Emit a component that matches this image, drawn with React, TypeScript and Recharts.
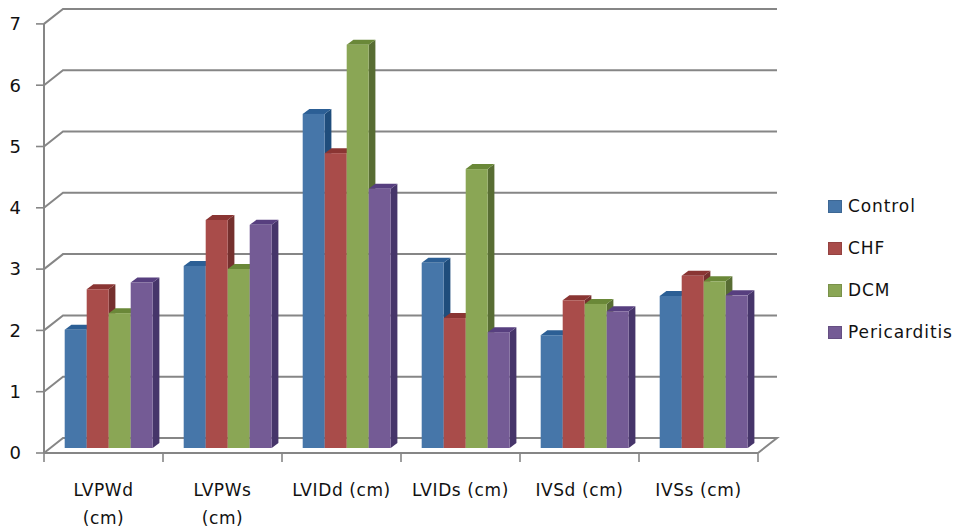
import React from 'react';
import { BarChart, Bar, XAxis, YAxis, CartesianGrid, Legend } from 'recharts';

const categories = ['LVPWd (cm)', 'LVPWs (cm)', 'LVIDd (cm)', 'LVIDs (cm)', 'IVSd (cm)', 'IVSs (cm)'];
const wrappedCategories = ['LVPWd (cm)', 'LVPWs (cm)'];
const control = [1.93, 2.97, 5.45, 3.02, 1.84, 2.48];
const chf = [2.59, 3.72, 4.81, 2.12, 2.41, 2.81];
const dcm = [2.2, 2.92, 6.58, 4.55, 2.35, 2.72];
const pericarditis = [2.7, 3.64, 4.23, 1.89, 2.23, 2.49];
const yTicks = [0, 1, 2, 3, 4, 5, 6, 7];

const data = categories.map((name, i) => ({
  name,
  Control: control[i],
  CHF: chf[i],
  DCM: dcm[i],
  Pericarditis: pericarditis[i],
}));

const FONT = '"DejaVu Sans", sans-serif';
const AXIS = '#868686';
const TEXT = '#111111';
const WALL_DX = 19;
const WALL_DY = 15;
const BAR_SHIFT_X = 4.6;
const BAR_SHIFT_Y = 5;
const BAR_DX = 6.7;
const BAR_DY = 5;
const CATEGORY_W = 119;

const palette = {
  Control: { front: '#4676a9', side: '#1f4d7c', top: '#2c5f95' },
  CHF: { front: '#a94c4a', side: '#75302e', top: '#8a3533' },
  DCM: { front: '#8aa655', side: '#586d33', top: '#6a8838' },
  Pericarditis: { front: '#745b95', side: '#46356a', top: '#573f7f' },
};

const make3DBar = (c: { front: string; side: string; top: string }) => (p: any) => {
  const x = p.x + BAR_SHIFT_X;
  const y = p.y - BAR_SHIFT_Y;
  const w = p.width;
  const h = p.height;
  return (
    <g>
      <polygon points={`${x + w},${y} ${x + w + BAR_DX},${y - BAR_DY} ${x + w + BAR_DX},${y + h - BAR_DY} ${x + w},${y + h}`} fill={c.side} />
      <polygon points={`${x},${y} ${x + BAR_DX},${y - BAR_DY} ${x + w + BAR_DX},${y - BAR_DY} ${x + w},${y}`} fill={c.top} />
      <rect x={x} y={y} width={w} height={h} fill={c.front} />
    </g>
  );
};

const gridLine = (p: any) => {
  const isFloor = Math.abs(p.y1 - (p.y + p.height)) < 0.5;
  const pts = `${p.x1},${p.y1} ${p.x1 + WALL_DX},${p.y1 - WALL_DY} ${p.x2 + WALL_DX},${p.y1 - WALL_DY}${isFloor ? ` ${p.x2},${p.y1}` : ''}`;
  return <polyline key={p.key ?? p.y1} points={pts} fill="none" stroke={AXIS} strokeWidth={2} />;
};

const XTick = (p: any) => {
  const name: string = p.payload.value;
  const left = p.x - CATEGORY_W / 2;
  const lines = wrappedCategories.includes(name) ? name.split(' ') : [name];
  return (
    <g>
      <line x1={left} x2={left} y1={453} y2={462} stroke={AXIS} strokeWidth={1.6} />
      {p.index === categories.length - 1 && (
        <line x1={left + CATEGORY_W} x2={left + CATEGORY_W} y1={453} y2={462} stroke={AXIS} strokeWidth={1.6} />
      )}
      {lines.map((t, i) => (
        <text key={t} x={p.x} y={496 + i * 28} textAnchor="middle" fontFamily={FONT} fontSize={17} letterSpacing={0.6} fill={TEXT}>
          {t}
        </text>
      ))}
    </g>
  );
};

const LegendBox = (p: any) => (
  <div style={{ fontFamily: FONT, fontSize: 17, letterSpacing: 0.9, color: TEXT }}>
    {p.payload.map((e: any) => (
      <div key={e.value} style={{ display: 'flex', alignItems: 'center', height: 42 }}>
        <span style={{ width: 14, height: 13, background: e.color, marginRight: 6, display: 'inline-block', boxShadow: 'inset 0 0 0 1px rgba(0,0,0,.12)' }} />
        {e.value}
      </div>
    ))}
  </div>
);

export default function App() {
  return (
    <div style={{ position: 'absolute', left: 0, top: 0, width: 961, height: 529, background: '#fff' }}>
      <BarChart
        width={961}
        height={529}
        data={data}
        barGap={0}
        barCategoryGap={16.1}
        margin={{ top: 23.9, right: 203, bottom: 26, left: 4 }}
      >
        <CartesianGrid vertical={false} horizontal={gridLine} />
        <XAxis
          dataKey="name"
          height={50}
          interval={0}
          axisLine={{ stroke: AXIS, strokeWidth: 2 }}
          tickLine={false}
          tick={XTick}
        />
        <YAxis
          width={40}
          domain={[0, 7]}
          ticks={yTicks}
          axisLine={{ stroke: AXIS, strokeWidth: 2 }}
          tickLine={{ stroke: AXIS, strokeWidth: 1.6 }}
          tickSize={8}
          tickMargin={15}
          tick={{ fontFamily: FONT, fontSize: 18, fill: TEXT }}
        />
        <Legend
          layout="horizontal"
          align="center"
          verticalAlign="middle"
          itemSorter={null}
          content={LegendBox}
          wrapperStyle={{ position: 'absolute', left: 828, top: 185, width: 133, bottom: 'auto', right: 'auto' }}
        />
        <Bar dataKey="Control" fill={palette.Control.front} isAnimationActive={false} shape={make3DBar(palette.Control)} />
        <Bar dataKey="CHF" fill={palette.CHF.front} isAnimationActive={false} shape={make3DBar(palette.CHF)} />
        <Bar dataKey="DCM" fill={palette.DCM.front} isAnimationActive={false} shape={make3DBar(palette.DCM)} />
        <Bar dataKey="Pericarditis" fill={palette.Pericarditis.front} isAnimationActive={false} shape={make3DBar(palette.Pericarditis)} />
      </BarChart>
    </div>
  );
}
